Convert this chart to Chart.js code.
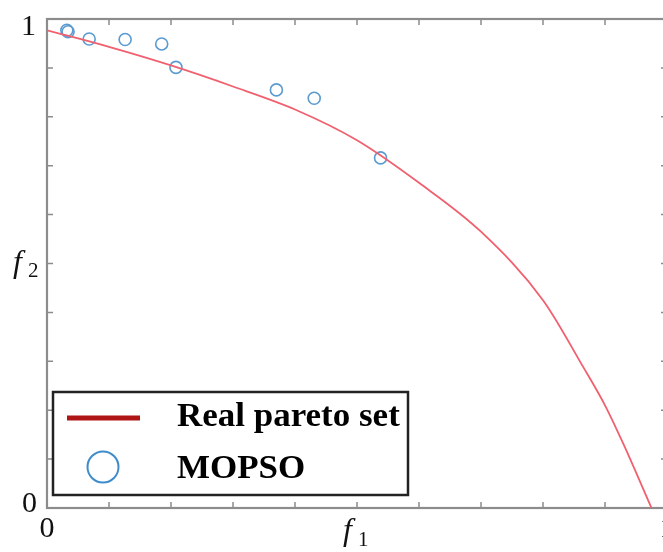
<!DOCTYPE html>
<html>
<head>
<meta charset="utf-8">
<script src="https://cdn.jsdelivr.net/npm/chart.js@4.4.1/dist/chart.umd.min.js"></script>
<style>
html,body{margin:0;padding:0;background:#fff;overflow:hidden;width:663px;height:552px;}
#wrap{position:absolute;left:0;top:0;width:680px;height:552px;}
</style>
</head>
<body>
<div id="wrap"><canvas id="c" width="680" height="552"></canvas></div>
<script>
// Real pareto set
const paretoF1 = [0, 0.1, 0.2, 0.3, 0.4, 0.5, 0.6, 0.7, 0.8, 0.865, 0.9, 0.93, 0.975];
const paretoF2 = [0.977, 0.943, 0.905, 0.862, 0.815, 0.752, 0.665, 0.565, 0.425, 0.288, 0.21, 0.13, 0.0];
// MOPSO solutions
const mopsoF1 = [0.032, 0.034, 0.068, 0.126, 0.185, 0.208, 0.370, 0.431, 0.538];
const mopsoF2 = [0.977, 0.974, 0.959, 0.958, 0.949, 0.901, 0.855, 0.838, 0.716];
// Axis tick labels
const xTickLabels = ["0", "1"];
const yTickLabels = ["0", "1"];
const seriesNames = ["Real pareto set", "MOPSO"];

const paretoData = paretoF1.map((v, i) => ({x: v, y: paretoF2[i]}));
const mopsoData = mopsoF1.map((v, i) => ({x: v, y: mopsoF2[i]}));

const SERIF = '"Liberation Serif", "Times New Roman", serif';

const framePlugin = {
  id: 'frame',
  beforeDatasetsDraw(chart) {
    const {ctx, chartArea: a, scales: {x, y}} = chart;
    ctx.save();
    ctx.strokeStyle = '#8c8c8c';
    ctx.lineWidth = 2.2;
    ctx.strokeRect(a.left, a.top, a.right - a.left, a.bottom - a.top);
    ctx.lineWidth = 1.5;
    ctx.beginPath();
    for (let i = 1; i < 10; i++) {
      const v = i / 10;
      const px = x.getPixelForValue(v);
      const py = y.getPixelForValue(v);
      ctx.moveTo(px, a.bottom); ctx.lineTo(px, a.bottom - 6);
      ctx.moveTo(px, a.top); ctx.lineTo(px, a.top + 6);
      ctx.moveTo(a.left, py); ctx.lineTo(a.left + 6, py);
      ctx.moveTo(a.right, py); ctx.lineTo(a.right - 6, py);
    }
    ctx.stroke();
    ctx.restore();
  },
  afterDraw(chart) {
    const {ctx, chartArea: a, scales: {x, y}} = chart;
    ctx.save();
    ctx.fillStyle = '#111';
    ctx.font = '30px ' + SERIF;
    ctx.textBaseline = 'middle';
    ctx.textAlign = 'right';
    ctx.fillText(yTickLabels[1], a.left - 11, y.getPixelForValue(1) + 8);
    ctx.fillText(yTickLabels[0], a.left - 10, y.getPixelForValue(0) - 4);
    ctx.textAlign = 'center';
    ctx.fillText(xTickLabels[0], x.getPixelForValue(0), a.bottom + 21);
    ctx.fillText(xTickLabels[1], x.getPixelForValue(1), a.bottom + 21);
    // axis titles
    ctx.textBaseline = 'alphabetic';
    ctx.textAlign = 'left';
    ctx.font = 'italic 32px ' + SERIF;
    ctx.fillText('f', 13, 272);
    ctx.font = '21px ' + SERIF;
    ctx.fillText('2', 28, 277);
    ctx.font = 'italic 32px ' + SERIF;
    ctx.fillText('f', 343, 540);
    ctx.font = '21px ' + SERIF;
    ctx.fillText('1', 358, 546);

    // legend
    ctx.fillStyle = '#fff';
    ctx.fillRect(53, 392, 355, 103);
    ctx.strokeStyle = '#222';
    ctx.lineWidth = 2.5;
    ctx.strokeRect(53, 392, 355, 103);
    ctx.strokeStyle = '#b01515';
    ctx.lineWidth = 5;
    ctx.beginPath();
    ctx.moveTo(67, 418); ctx.lineTo(140, 418);
    ctx.stroke();
    ctx.strokeStyle = '#3f8ccc';
    ctx.lineWidth = 2;
    ctx.beginPath();
    ctx.arc(103, 467, 15.5, 0, Math.PI * 2);
    ctx.stroke();
    ctx.fillStyle = '#000';
    ctx.font = 'bold 33px ' + SERIF;
    ctx.save();
    ctx.translate(177, 0);
    ctx.scale(1.06, 1);
    ctx.fillText(seriesNames[0], 0, 426);
    ctx.fillText(seriesNames[1], 0, 478);
    ctx.restore();
    ctx.restore();
  }
};

new Chart(document.getElementById('c'), {
  type: 'scatter',
  data: {
    datasets: [
      {
        label: seriesNames[0],
        data: paretoData,
        showLine: true,
        borderColor: '#f0606e',
        borderWidth: 1.8,
        pointRadius: 0,
        cubicInterpolationMode: 'monotone',
        fill: false
      },
      {
        label: seriesNames[1],
        data: mopsoData,
        showLine: false,
        pointStyle: 'circle',
        pointRadius: 6,
        pointBorderWidth: 1.6,
        pointBorderColor: '#5b9bd0',
        pointBackgroundColor: 'rgba(0,0,0,0)'
      }
    ]
  },
  options: {
    responsive: false,
    animation: false,
    layout: {padding: {left: 47, top: 19, right: 13, bottom: 44}},
    plugins: {legend: {display: false}, tooltip: {enabled: false}},
    scales: {
      x: {type: 'linear', min: 0, max: 1, display: false},
      y: {type: 'linear', min: 0, max: 1, display: false}
    }
  },
  plugins: [framePlugin]
});
</script>
</body>
</html>
